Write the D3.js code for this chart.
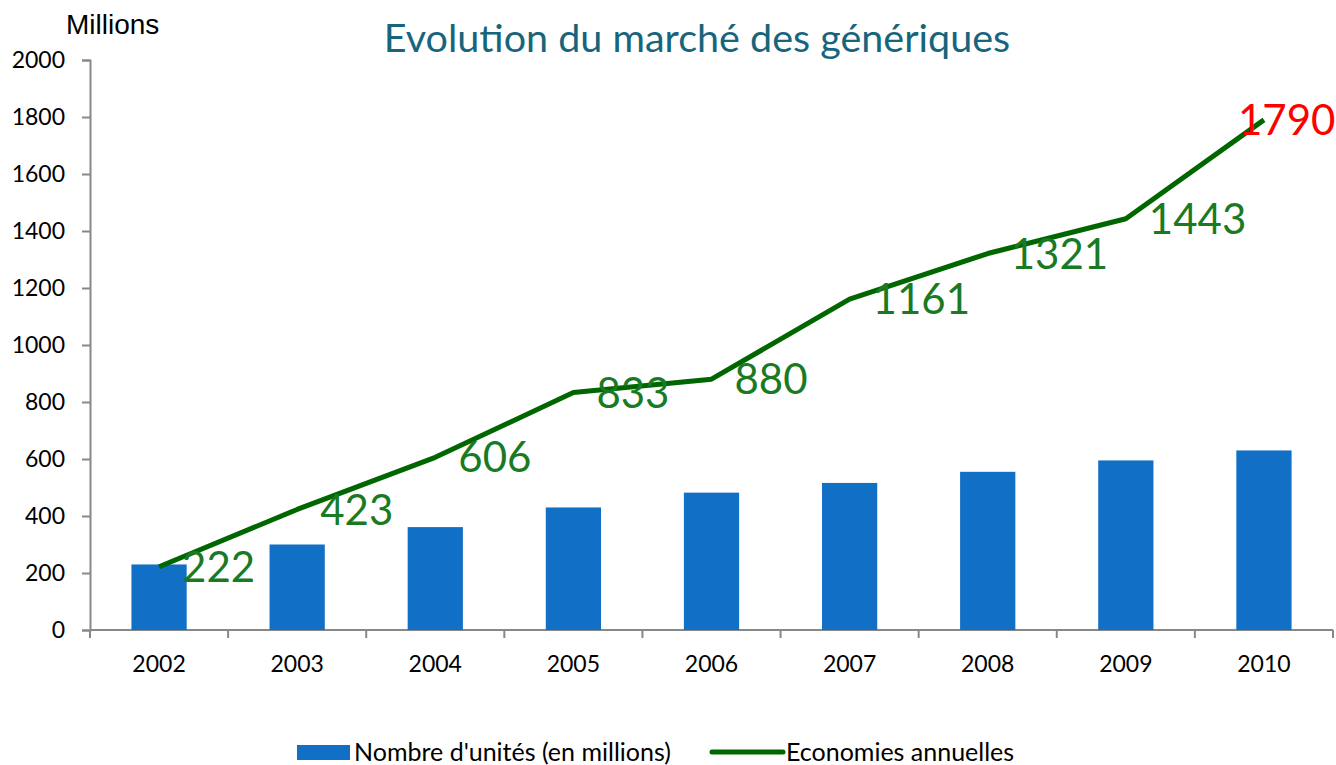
<!DOCTYPE html>
<html><head><meta charset="utf-8">
<script src="https://cdn.jsdelivr.net/npm/d3@7/dist/d3.min.js"></script>
<style>body{margin:0;background:#fff;} svg{display:block;}</style>
</head><body>
<svg id="c" width="1336" height="765"></svg>
<script>
const years = ["2002","2003","2004","2005","2006","2007","2008","2009","2010"];
const unites = [230, 300, 361, 430, 482, 516, 555, 595, 630];
const economies = [222, 423, 606, 833, 880, 1161, 1321, 1443, 1790];
const yTicks = [0, 200, 400, 600, 800, 1000, 1200, 1400, 1600, 1800, 2000];

const svg = d3.select("#c");
const mLeft = 90, mRight = 1333, mTop = 60, mBottom = 630;
const font = "Lato, 'Open Sans', sans-serif";

const x = d3.scaleBand().domain(years).range([mLeft, mRight]).paddingInner(0).paddingOuter(0);
const y = d3.scaleLinear().domain([0, 2000]).range([mBottom, mTop]);

// y axis
const yAxis = svg.append("g").attr("transform", `translate(${mLeft},0)`)
  .call(d3.axisLeft(y).tickValues(yTicks).tickSize(8).tickPadding(17).tickFormat(d3.format("d")));
yAxis.select(".domain").attr("stroke", "#888").attr("stroke-width", 2);
yAxis.selectAll(".tick line").attr("stroke", "#888").attr("stroke-width", 2);
yAxis.selectAll(".tick text").attr("font-family", font).attr("font-size", 23).attr("fill", "#000");

// x axis with ticks at category boundaries
const xg = svg.append("g").attr("transform", `translate(0,${mBottom})`);
xg.append("line").attr("x1", mLeft).attr("x2", mRight).attr("stroke", "#888").attr("stroke-width", 2);
const bounds = years.map(d => x(d)).concat([x(years[years.length-1]) + x.bandwidth()]);
xg.selectAll("line.tk").data(bounds).enter().append("line").attr("class","tk")
  .attr("x1", d => d).attr("x2", d => d).attr("y1", 0).attr("y2", 8)
  .attr("stroke", "#888").attr("stroke-width", 2);
xg.selectAll("text").data(years).enter().append("text")
  .attr("x", d => x(d) + x.bandwidth()/2).attr("y", 42)
  .attr("text-anchor", "middle").attr("font-family", font).attr("font-size", 23).attr("fill", "#000")
  .text(d => d);

// bars
const bw = x.bandwidth() * 0.4;
svg.append("g").selectAll("rect").data(unites).enter().append("rect")
  .attr("x", (d,i) => x(years[i]) + x.bandwidth()/2 - bw/2)
  .attr("y", d => y(d)).attr("width", bw).attr("height", d => y(0) - y(d))
  .attr("fill", "#116fc6");

// line
const line = d3.line().x((d,i) => x(years[i]) + x.bandwidth()/2).y(d => y(d));
svg.append("path").datum(economies).attr("d", line)
  .attr("fill", "none").attr("stroke", "#006600").attr("stroke-width", 5).attr("stroke-linejoin", "round");

// labels
svg.append("g").selectAll("text").data(economies).enter().append("text")
  .attr("x", (d,i) => i === economies.length-1 ? x(years[i]) + x.bandwidth()/2 - 26 : x(years[i]) + x.bandwidth()/2 + 23)
  .attr("y", d => y(d)).attr("dy", "0.36em")
  .attr("font-family", font).attr("font-size", 42)
  .attr("fill", (d,i) => i === economies.length-1 ? "#ff0000" : "#1a7a24")
  .text(d => d);

// title
svg.append("text").attr("x", 697).attr("y", 52).attr("text-anchor", "middle")
  .attr("font-family", font).attr("font-size", 39.5).attr("fill", "#17657d")
  .text("Evolution du marché des génériques");

svg.append("text").attr("x", 66).attr("y", 34).attr("font-family", "'Liberation Sans', Arial, sans-serif")
  .attr("font-size", 28).attr("fill", "#000").text("Millions");

// legend
const lg = svg.append("g");
lg.append("rect").attr("x", 297).attr("y", 745).attr("width", 53).attr("height", 15).attr("fill", "#116fc6");
lg.append("text").attr("x", 354).attr("y", 761).attr("font-family", font).attr("font-size", 25).attr("fill", "#000")
  .text("Nombre d'unités (en millions)");
lg.append("line").attr("x1", 712).attr("x2", 783).attr("y1", 752).attr("y2", 752)
  .attr("stroke", "#006600").attr("stroke-width", 5).attr("stroke-linecap", "round");
lg.append("text").attr("x", 786).attr("y", 761).attr("font-family", font).attr("font-size", 25).attr("fill", "#000")
  .text("Economies annuelles");
</script>
</body></html>
